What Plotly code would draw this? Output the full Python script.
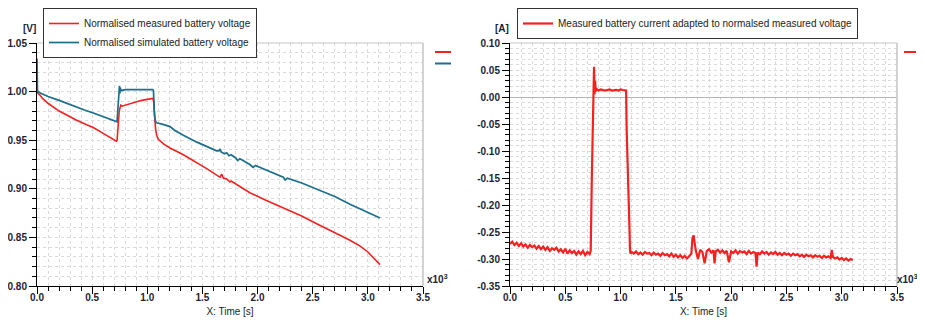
import plotly.graph_objects as go

# the page body adds an 8 px margin on every side
PAGE_OFF = 8
W, H = 925 - PAGE_OFF, 325 - 2 * PAGE_OFF

# ---------------- data (time in 10^3 s) ----------------
t_meas = [0.000, 0.010, 0.027, 0.050, 0.100, 0.150, 0.200, 0.270, 0.350, 0.450, 0.510,
          0.600, 0.680, 0.720, 0.726, 0.735, 0.745, 0.752, 0.760, 0.770, 0.800, 0.850,
          0.900, 0.950, 1.000, 1.050, 1.058, 1.065, 1.075, 1.085, 1.100, 1.150, 1.206,
          1.327, 1.450, 1.550, 1.629, 1.660, 1.675, 1.690, 1.720, 1.750, 1.760, 1.800,
          1.930, 2.080, 2.233, 2.400, 2.536, 2.700, 2.838, 2.930, 3.000, 3.050, 3.110]
v_meas = [1.000, 0.998, 0.9965, 0.993, 0.988, 0.984, 0.980, 0.976, 0.971, 0.966, 0.963,
          0.957, 0.952, 0.949, 0.950, 0.966, 0.979, 0.983, 0.986, 0.985, 0.986, 0.988,
          0.990, 0.991, 0.992, 0.993, 0.990, 0.975, 0.962, 0.955, 0.951, 0.946, 0.942,
          0.935, 0.927, 0.920, 0.914, 0.912, 0.915, 0.911, 0.910, 0.907, 0.908, 0.905,
          0.896, 0.888, 0.880, 0.872, 0.864, 0.855, 0.847, 0.841, 0.835, 0.829, 0.822]

t_sim = [0.000, 0.004, 0.020, 0.100, 0.200, 0.270, 0.350, 0.430, 0.510, 0.600, 0.680,
         0.720, 0.726, 0.735, 0.742, 0.748, 0.752, 0.756, 0.760, 0.800, 0.900, 1.000,
         1.050, 1.056, 1.065, 1.075, 1.085, 1.150, 1.206, 1.250, 1.327, 1.450, 1.550,
         1.629, 1.650, 1.660, 1.670, 1.700, 1.720, 1.740, 1.760, 1.800, 1.820, 1.840,
         1.930, 1.960, 1.980, 2.100, 2.233, 2.250, 2.270, 2.400, 2.536, 2.700, 2.838,
         2.950, 3.110]
v_sim = [1.034, 1.001, 0.999, 0.995, 0.991, 0.988, 0.984, 0.981, 0.978, 0.974, 0.971,
         0.969, 0.969, 0.985, 0.999, 1.006, 0.998, 1.004, 1.001, 1.002, 1.002, 1.002,
         1.002, 1.001, 0.976, 0.969, 0.968, 0.966, 0.964, 0.960, 0.955, 0.948, 0.943,
         0.939, 0.939, 0.941, 0.938, 0.936, 0.937, 0.934, 0.935, 0.932, 0.929, 0.931,
         0.925, 0.922, 0.924, 0.918, 0.912, 0.909, 0.911, 0.906, 0.900, 0.892, 0.884,
         0.878, 0.870]

t_cur = [0.00, 0.02, 0.04, 0.06, 0.08, 0.10, 0.12, 0.14, 0.16, 0.18, 0.20, 0.22, 0.24,
         0.26, 0.28, 0.30, 0.32, 0.34, 0.36, 0.38, 0.40, 0.42, 0.44, 0.46, 0.48, 0.50,
         0.52, 0.54, 0.56, 0.58, 0.60, 0.62, 0.64, 0.66, 0.68, 0.70, 0.72,
         0.730, 0.740, 0.748, 0.755, 0.760, 0.765, 0.770, 0.775, 0.780, 0.790,
         0.80, 0.82, 0.84, 0.86, 0.88, 0.90, 0.92, 0.94, 0.96, 0.98, 1.00, 1.02, 1.04, 1.05,
         1.055, 1.065, 1.075, 1.080, 1.085, 1.090,
         1.10, 1.12, 1.14, 1.16, 1.18, 1.20, 1.22, 1.24, 1.26, 1.28, 1.30, 1.32, 1.34,
         1.36, 1.38, 1.40, 1.42, 1.44, 1.46, 1.48, 1.50, 1.52, 1.54, 1.56, 1.58, 1.60,
         1.62, 1.64, 1.65, 1.66, 1.67, 1.68, 1.70, 1.72, 1.74, 1.76, 1.78, 1.80, 1.82,
         1.84, 1.85, 1.86, 1.88, 1.90, 1.92, 1.94, 1.96, 1.98, 2.00, 2.02, 2.04, 2.06,
         2.08, 2.10, 2.12, 2.14, 2.16, 2.18, 2.20, 2.22, 2.23, 2.24, 2.26, 2.28, 2.30,
         2.32, 2.34, 2.36, 2.38, 2.40, 2.42, 2.44, 2.46, 2.48, 2.50, 2.52, 2.54, 2.56,
         2.58, 2.60, 2.62, 2.64, 2.66, 2.68, 2.70, 2.72, 2.74, 2.76, 2.78, 2.80, 2.82,
         2.84, 2.86, 2.88, 2.90, 2.91, 2.92, 2.94, 2.96, 2.98, 3.00, 3.02, 3.04, 3.06,
         3.08, 3.10]
i_cur = [-0.272, -0.268, -0.274, -0.270, -0.276, -0.271, -0.277, -0.273, -0.279, -0.274,
         -0.278, -0.275, -0.281, -0.276, -0.282, -0.277, -0.283, -0.278, -0.285, -0.280,
         -0.283, -0.279, -0.286, -0.282, -0.288, -0.281, -0.290, -0.284, -0.289, -0.285,
         -0.292, -0.286, -0.291, -0.285, -0.293, -0.287, -0.291,
         -0.285, -0.150, -0.050, 0.020, 0.056, 0.005, 0.030, 0.010, 0.016, 0.013,
         0.012, 0.014, 0.013, 0.012, 0.013, 0.014, 0.012, 0.013, 0.013, 0.012, 0.014,
         0.013, 0.012, 0.012,
         -0.060, -0.120, -0.180, -0.240, -0.283, -0.290,
         -0.287, -0.290, -0.286, -0.291, -0.288, -0.292, -0.287, -0.290, -0.289, -0.293,
         -0.288, -0.292, -0.290, -0.294, -0.289, -0.293, -0.291, -0.295, -0.290, -0.296,
         -0.292, -0.297, -0.293, -0.298, -0.294, -0.299, -0.295, -0.290, -0.262, -0.256,
         -0.270, -0.284, -0.300, -0.283, -0.287, -0.308, -0.285, -0.282, -0.288, -0.284,
         -0.308, -0.286, -0.283, -0.288, -0.284, -0.289, -0.285, -0.306, -0.286, -0.289,
         -0.284, -0.290, -0.285, -0.288, -0.286, -0.291, -0.285, -0.290, -0.287, -0.289,
         -0.314, -0.288, -0.291, -0.286, -0.290, -0.287, -0.292, -0.288, -0.291, -0.287,
         -0.292, -0.289, -0.293, -0.289, -0.292, -0.290, -0.294, -0.290, -0.293, -0.291,
         -0.295, -0.292, -0.296, -0.292, -0.295, -0.293, -0.297, -0.293, -0.296, -0.294,
         -0.298, -0.294, -0.297, -0.295, -0.298, -0.283, -0.296, -0.299, -0.297, -0.301,
         -0.298, -0.302, -0.299, -0.303, -0.300, -0.302]

x_ticks = [0.0, 0.5, 1.0, 1.5, 2.0, 2.5, 3.0, 3.5]
x_tick_labels = ["0.0", "0.5", "1.0", "1.5", "2.0", "2.5", "3.0", "3.5"]
v_ticks = [0.80, 0.85, 0.90, 0.95, 1.00, 1.05]
v_tick_labels = ["0.80", "0.85", "0.90", "0.95", "1.00", "1.05"]
a_ticks = [-0.35, -0.30, -0.25, -0.20, -0.15, -0.10, -0.05, 0.00, 0.05, 0.10]
a_tick_labels = ["-0.35", "-0.30", "-0.25", "-0.20", "-0.15", "-0.10", "-0.05", "0.00", "0.05", "0.10"]

name_meas = "Normalised measured battery voltage"
name_sim = "Normalised simulated battery voltage"
name_cur = "Measured battery current adapted to normalsed measured voltage"

RED = "#f52020"
BLUE = "#1b6e8c"
GRID = "#dadada"
FRAME = "#c4c4c4"
TXT = "#1e1e34"
FONT = "Liberation Sans"

def fx(p):
    return (p - PAGE_OFF) / W

def fy(p):
    return 1 - (p - PAGE_OFF) / H

fig = go.Figure()
fig.add_trace(go.Scatter(x=t_meas, y=v_meas, mode="lines", name=name_meas,
                         line=dict(color=RED, width=1.6), xaxis="x", yaxis="y", legend="legend"))
fig.add_trace(go.Scatter(x=t_sim, y=v_sim, mode="lines", name=name_sim,
                         line=dict(color=BLUE, width=1.7), xaxis="x", yaxis="y", legend="legend"))
fig.add_trace(go.Scatter(x=t_cur, y=i_cur, mode="lines", name=name_cur,
                         line=dict(color=RED, width=2.2), xaxis="x2", yaxis="y2", legend="legend2"))

tickfont = dict(family=FONT, size=10, color=TXT, weight="bold")

def xax(domain, anchor):
    return dict(domain=domain, anchor=anchor, range=[0, 3.5],
                tickmode="array", tickvals=x_ticks, ticktext=x_tick_labels,
                ticks="outside", ticklen=7, tickwidth=1, tickcolor="black",
                ticklabelstandoff=-5,
                showline=True, linecolor="black", linewidth=1,
                showgrid=True, gridcolor=GRID, griddash="dot", gridwidth=1,
                zeroline=False, tickfont=tickfont,
                minor=dict(tickmode="linear", tick0=0, dtick=0.1, ticks="outside", ticklen=4,
                           tickcolor="black", showgrid=True, gridcolor=GRID, griddash="dot"),
                title=dict(text="X: Time [s]", font=dict(family=FONT, size=10, color="#222"),
                           standoff=11))

def yax(domain, anchor, rng, tv, tt, zl):
    return dict(domain=domain, anchor=anchor, range=rng,
                tickmode="array", tickvals=tv, ticktext=tt,
                ticks="outside", ticklen=7, tickwidth=1, tickcolor="black",
                showline=True, linecolor="black", linewidth=1,
                showgrid=True, gridcolor=GRID, griddash="dot", gridwidth=1,
                zeroline=zl, zerolinecolor="#b4b4b4", zerolinewidth=1,
                tickfont=tickfont,
                minor=dict(tickmode="linear", tick0=rng[0], dtick=0.01, ticks="outside", ticklen=4,
                           tickcolor="black", showgrid=True, gridcolor=GRID, griddash="dot"))

ydom = [fy(286), fy(43)]
fig.update_layout(
    width=W, height=H,
    margin=dict(l=0, r=0, t=0, b=0, autoexpand=False),
    paper_bgcolor="white", plot_bgcolor="white",
    showlegend=True,
    xaxis=xax([fx(37), fx(423)], "y"),
    yaxis=yax(ydom, "x", [0.80, 1.05], v_ticks, v_tick_labels, False),
    xaxis2=xax([fx(510), fx(897)], "y2"),
    yaxis2=yax(ydom, "x2", [-0.35, 0.10], a_ticks, a_tick_labels, True),
    legend=dict(x=fx(43), y=1, xanchor="left", yanchor="top",
                bgcolor="white", bordercolor="#333", borderwidth=1,
                font=dict(family=FONT, size=10, color="#222"),
                itemwidth=30, tracegroupgap=0),
    legend2=dict(x=fx(517), y=1, xanchor="left", yanchor="top",
                 bgcolor="white", bordercolor="#333", borderwidth=1,
                 font=dict(family=FONT, size=10, color="#222"),
                 itemwidth=30),
)

shapes = []
for xr, yr in (("x domain", "y domain"), ("x2 domain", "y2 domain")):
    shapes.append(dict(type="line", xref=xr, yref=yr, x0=1, x1=1, y0=0, y1=1,
                       line=dict(color=FRAME, width=1.5)))
    shapes.append(dict(type="line", xref=xr, yref=yr, x0=0, x1=1, y0=1, y1=1,
                       line=dict(color=FRAME, width=1)))
# side keys at the right of each plot
shapes.append(dict(type="line", xref="paper", yref="paper", x0=fx(435), x1=fx(451),
                   y0=fy(52), y1=fy(52), line=dict(color=RED, width=2)))
shapes.append(dict(type="line", xref="paper", yref="paper", x0=fx(435), x1=fx(451),
                   y0=fy(63.5), y1=fy(63.5), line=dict(color=BLUE, width=2)))
shapes.append(dict(type="line", xref="paper", yref="paper", x0=fx(904), x1=fx(916),
                   y0=fy(52), y1=fy(52), line=dict(color=RED, width=2)))
fig.update_layout(shapes=shapes)

ann = []
for xpix, lab in ((29.5, "[V]"), (502, "[A]")):
    ann.append(dict(x=fx(xpix), y=fy(29), xref="paper", yref="paper", text=lab,
                    showarrow=False, xanchor="center", yanchor="middle",
                    font=dict(family=FONT, size=10, color=TXT, weight="bold")))
for xpix in (425, 895):
    ann.append(dict(x=fx(xpix), y=fy(279), xref="paper", yref="paper",
                    text="x10<sup>3</sup>", showarrow=False, xanchor="left", yanchor="middle",
                    font=dict(family=FONT, size=10, color=TXT, weight="bold")))
fig.update_layout(annotations=ann)

fig.write_html("out.html")
